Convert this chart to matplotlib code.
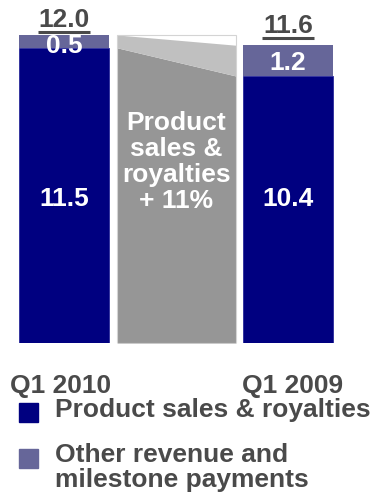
import matplotlib
matplotlib.use('Agg')
import matplotlib.pyplot as plt
from matplotlib.patches import Rectangle

plt.rcParams['font.family'] = ['Liberation Sans', 'DejaVu Sans']
plt.rcParams['font.weight'] = 'bold'

# data ======================================================================
quarters = ['Q1 2010', 'Q1 2009']
product = [11.5, 10.4]          # product sales & royalties
other = [0.5, 1.2]              # other revenue and milestone payments
totals = [12.0, 11.6]
total_labels = ['12.0', '11.6']
growth_label = 'Product\nsales &\nroyalties\n+ 11%'
legend_labels = ['Product sales & royalties', 'Other revenue and', 'milestone payments']

# colours
navy = '#000080'
lavender = '#666699'
grey = '#969696'
light_grey = '#c0c0c0'
text_col = '#4a4a4a'
fs = 19

W, H = 372, 496
fig = plt.figure(figsize=(W / 100, H / 100), dpi=100)
ax = fig.add_axes([0, 1 - 343 / H, 1, 343 / H])
px_per_unit = 25.67
ax.set_xlim(-64 / 224, (W - 64) / 224)
ax.set_ylim(0, 343 / px_per_unit)
ax.axis('off')

x = [0, 1]
bw = 90 / 224
ax.bar(x, product, width=bw, color=navy, edgecolor='#2a2a9a', linewidth=0.6)
ax.bar(x, other, width=bw, bottom=product, color=lavender, linewidth=0)

# connector between the two bars ===========================================
cx = [0.237, 0.768]
ax.fill_between(cx, [0, 0], product, color=grey, linewidth=0)
ax.fill_between(cx, product, totals, color=light_grey, linewidth=0)
ax.add_patch(Rectangle((cx[0], 0), cx[1] - cx[0], totals[0], fill=False,
                       edgecolor='#d4d4d4', linewidth=0.8))
ax.text(sum(cx) / 2, 7.05, growth_label, color='white', fontsize=fs,
        ha='center', va='center', linespacing=1.12)

# values inside bars
for xi, p in zip(x, product):
    ax.text(xi, 5.6, f'{p:.1f}', color='white', fontsize=fs, ha='center', va='center')
label_y_other = [11.57, 10.9]
for xi, o, yy in zip(x, other, label_y_other):
    ax.text(xi, yy, f'{o:.1f}', color='white', fontsize=fs, ha='center', va='center')

# totals, underlined
base_off = [0.31, 0.46]
line_off = [0.13, 0.28]
for xi, t, lab, bo, lo in zip(x, totals, total_labels, base_off, line_off):
    ax.text(xi, t + bo, lab, color=text_col, fontsize=fs, ha='center', va='baseline')
    ax.plot([xi - 0.114, xi + 0.114], [t + lo, t + lo], color=text_col,
            linewidth=2.2, solid_capstyle='butt', clip_on=False)

# category labels
fig.text(61 / W, 1 - 393 / H, quarters[0], color=text_col, fontsize=fs,
         ha='center', va='baseline')
fig.text(293 / W, 1 - 393 / H, quarters[1], color=text_col, fontsize=fs,
         ha='center', va='baseline')

# legend (drawn by hand) ===================================================
fig.patches.append(Rectangle((19 / W, 1 - 422 / H), 19 / W, 19 / H, color=navy,
                             transform=fig.transFigure, figure=fig))
fig.patches.append(Rectangle((19 / W, 1 - 468 / H), 19 / W, 19 / H, color=lavender,
                             transform=fig.transFigure, figure=fig))
fig.text(55 / W, 1 - 417 / H, legend_labels[0], color=text_col, fontsize=fs, va='baseline')
fig.text(55 / W, 1 - 462 / H, legend_labels[1], color=text_col, fontsize=fs, va='baseline')
fig.text(55 / W, 1 - 487 / H, legend_labels[2], color=text_col, fontsize=fs, va='baseline')

fig.savefig('out.png', dpi=100)
